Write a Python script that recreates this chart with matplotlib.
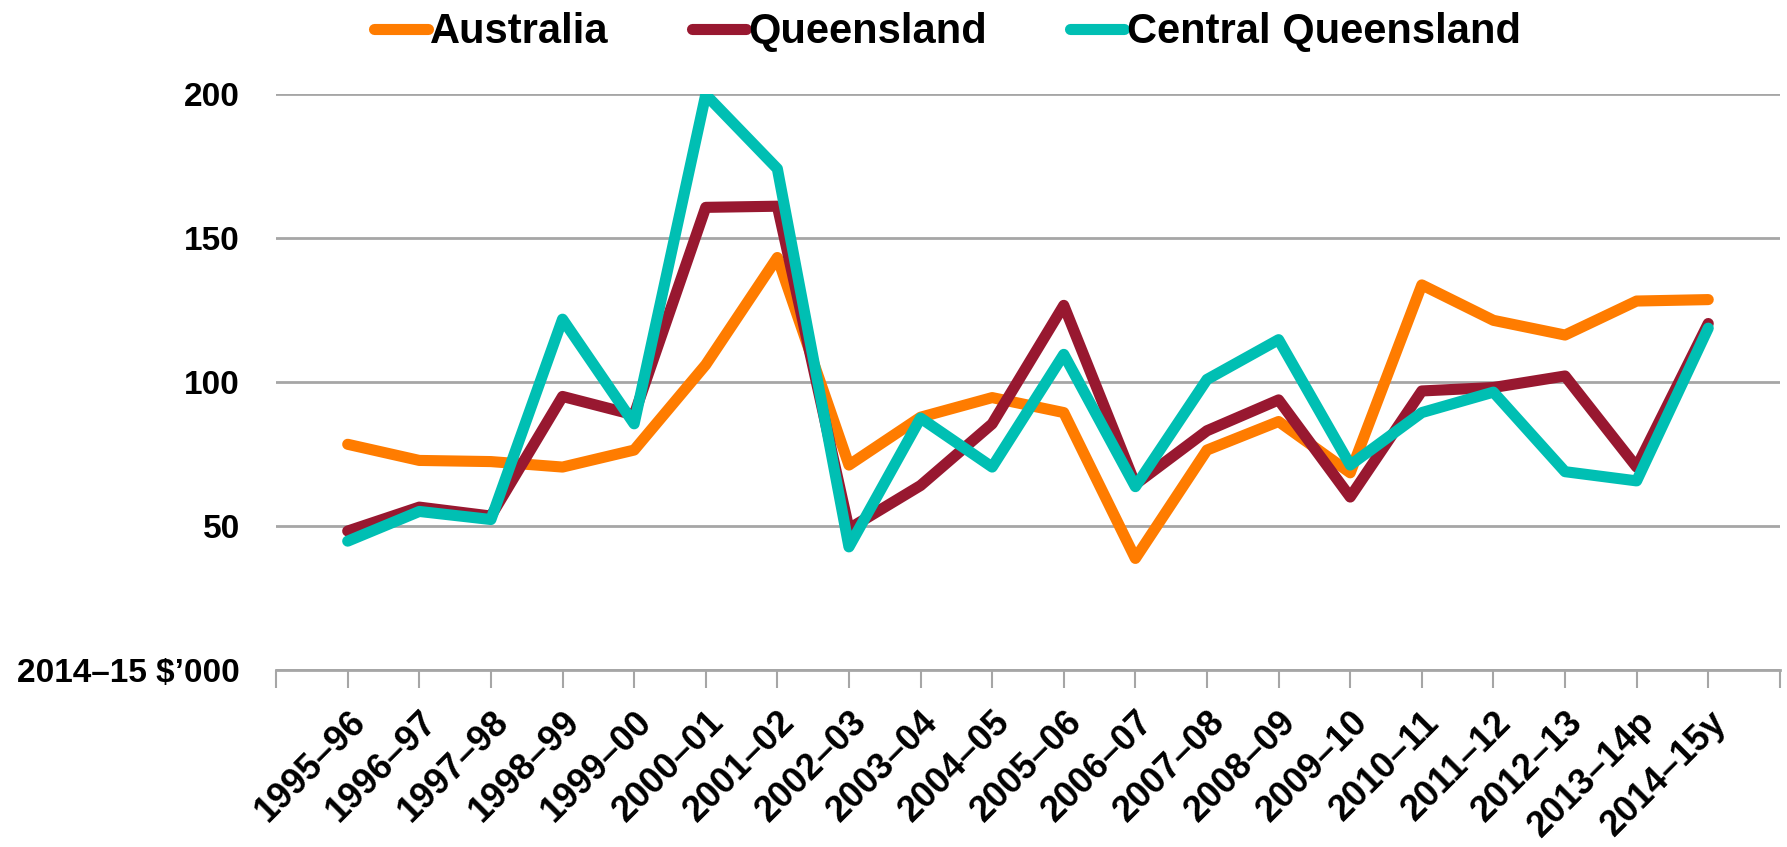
import matplotlib.pyplot as plt

years = ["1995–96", "1996–97", "1997–98", "1998–99", "1999–00", "2000–01",
         "2001–02", "2002–03", "2003–04", "2004–05", "2005–06", "2006–07",
         "2007–08", "2008–09", "2009–10", "2010–11", "2011–12", "2012–13",
         "2013–14p", "2014–15y"]

australia = [78.3, 72.7, 72.3, 70.4, 76.3, 105.9, 143.1, 71.1, 87.7, 94.5,
             89.3, 38.7, 76.3, 86.2, 68.4, 133.6, 121.3, 116.2, 128.0, 128.5]
queensland = [48.2, 56.5, 53.4, 94.9, 88.5, 160.5, 160.9, 49.0, 64.0, 85.4,
              126.5, 64.4, 83.0, 93.7, 60.0, 96.8, 98.0, 102.0, 70.4, 120.2]
central_qld = [44.7, 55.0, 52.2, 121.7, 85.4, 199.6, 173.9, 42.7, 87.4, 70.4,
               109.5, 63.6, 100.8, 114.6, 71.1, 89.3, 96.4, 68.8, 65.6, 118.6]

y_ticks = [0, 50, 100, 150, 200]
y_labels = ["2014–15 $’000", "50", "100", "150", "200"]

plt.rcParams["font.family"] = ["Liberation Sans", "DejaVu Sans"]
plt.rcParams["font.weight"] = "bold"

fig = plt.figure(figsize=(17.87, 8.47), dpi=100)
ax = fig.add_axes([0.1545, 0.209, 0.996 - 0.1545, 0.8896 - 0.209])

x = list(range(1, len(years) + 1))
lw = 8
ax.plot(x, australia, color="#FF7C00", lw=lw, solid_capstyle="round", label="Australia")
ax.plot(x, queensland, color="#981830", lw=lw, solid_capstyle="round", label="Queensland")
ax.plot(x, central_qld, color="#00BFB3", lw=lw, solid_capstyle="round", label="Central Queensland")

ax.set_xlim(0, len(years) + 1)
ax.set_ylim(0, 200)
ax.set_yticks(y_ticks)
ax.set_yticklabels(y_labels, fontsize=24, fontweight="bold")
ax.tick_params(axis="y", length=0, pad=26)
ax.yaxis.grid(True, color="#A6A6A6", lw=2)
ax.set_axisbelow(True)

ax.set_xticks(range(0, len(years) + 2))
ax.set_xticklabels([""] + years + [""], rotation=45, ha="right",
                   rotation_mode="anchor", fontsize=26, fontweight="bold")
ax.tick_params(axis="x", length=13, width=1.5, color="#A6A6A6", pad=12)

for s in ["top", "left", "right"]:
    ax.spines[s].set_visible(False)
ax.spines["bottom"].set_color("#A6A6A6")
ax.spines["bottom"].set_linewidth(2)

fig.legend(loc="upper center", bbox_to_anchor=(0.53, 1.005), ncol=3, frameon=False,
           borderaxespad=0, prop={"size": 30, "weight": "bold"}, handlelength=1.3,
           handletextpad=0.05, columnspacing=2.0)

fig.savefig("out.png", dpi=100)
